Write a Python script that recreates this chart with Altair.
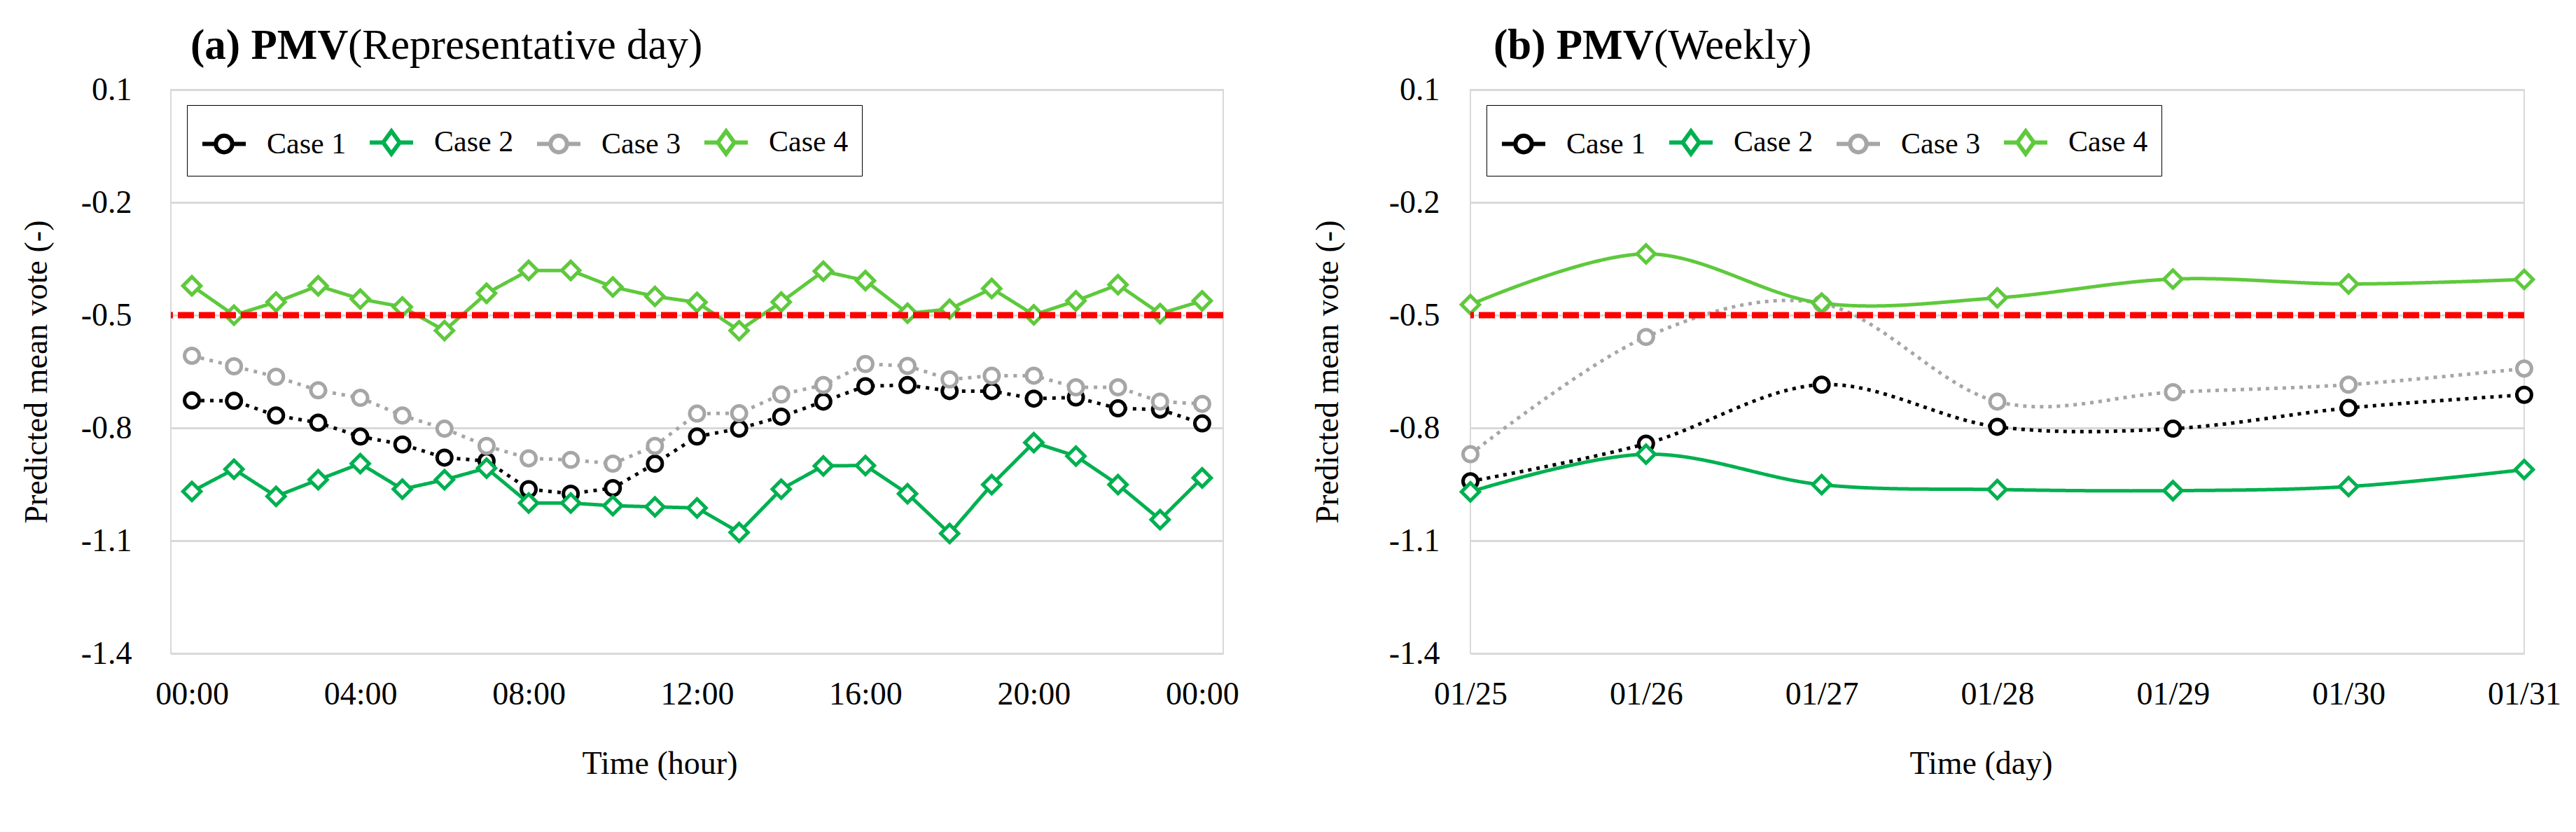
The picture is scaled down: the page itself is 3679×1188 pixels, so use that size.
import json
import altair as alt
import pandas as pd

# ---------------- data ----------------
cases = ["Case 1", "Case 2", "Case 3", "Case 4"]
case_colors = ["#000000", "#00B050", "#A6A6A6", "#5EC93C"]

hour_labels = ["00:00", "01:00", "02:00", "03:00", "04:00", "05:00", "06:00", "07:00",
               "08:00", "09:00", "10:00", "11:00", "12:00", "13:00", "14:00", "15:00",
               "16:00", "17:00", "18:00", "19:00", "20:00", "21:00", "22:00", "23:00", "00:00"]
hour_index = [0, 1, 2, 3, 4, 5, 6, 7, 8, 9, 10, 11, 12, 13, 14, 15, 16, 17, 18, 19, 20, 21, 22, 23, 24]
hour_ticks = [0, 4, 8, 12, 16, 20, 24]

day_case1 = [-0.727, -0.728, -0.767, -0.786, -0.823, -0.844, -0.879, -0.888, -0.963, -0.975,
             -0.960, -0.895, -0.823, -0.802, -0.770, -0.730, -0.689, -0.686, -0.702, -0.702,
             -0.722, -0.719, -0.748, -0.751, -0.788]
day_case2 = [-0.969, -0.910, -0.982, -0.938, -0.895, -0.963, -0.938, -0.907, -1.000, -1.000,
             -1.007, -1.010, -1.013, -1.078, -0.963, -0.901, -0.900, -0.975, -1.081, -0.951,
             -0.839, -0.875, -0.951, -1.044, -0.933]
day_case3 = [-0.608, -0.636, -0.664, -0.700, -0.720, -0.767, -0.802, -0.848, -0.881, -0.885,
             -0.895, -0.848, -0.762, -0.761, -0.711, -0.686, -0.630, -0.635, -0.671, -0.661,
             -0.661, -0.692, -0.692, -0.730, -0.736]
day_case4 = [-0.422, -0.500, -0.465, -0.422, -0.457, -0.478, -0.541, -0.442, -0.381, -0.381,
             -0.425, -0.450, -0.466, -0.541, -0.465, -0.383, -0.408, -0.495, -0.484, -0.429,
             -0.499, -0.462, -0.419, -0.496, -0.462]

date_labels = ["01/25", "01/26", "01/27", "01/28", "01/29", "01/30", "01/31"]
date_index = [0, 1, 2, 3, 4, 5, 6]
wk_case1 = [-0.942, -0.842, -0.685, -0.797, -0.802, -0.747, -0.712]
wk_case2 = [-0.970, -0.870, -0.951, -0.964, -0.967, -0.956, -0.911]
wk_case3 = [-0.870, -0.558, -0.469, -0.730, -0.705, -0.685, -0.642]
wk_case4 = [-0.472, -0.337, -0.468, -0.454, -0.404, -0.417, -0.405]

threshold = [-0.5]
y_ticks = [0.1, -0.2, -0.5, -0.8, -1.1, -1.4]

FONT = "Liberation Serif"


def long_df(xs, series):
    rows = []
    for name, vals in zip(cases, series):
        for x, v in zip(xs, vals):
            rows.append({"x": x, "Case": name, "PMV": v})
    return pd.DataFrame(rows)


df_day = long_df(hour_index, [day_case1, day_case2, day_case3, day_case4])
df_week = long_df(date_index, [wk_case1, wk_case2, wk_case3, wk_case4])

circle_leg = "M-1,0H-0.38M0.38,0H1M0.38,0A0.38,0.38,0,1,1,-0.38,0A0.38,0.38,0,1,1,0.38,0"
diamond_leg = "M-1,0H-0.38M0.38,0H1M0,-0.52L0.38,0L0,0.52L-0.38,0Z"


def panel(df, xdomain, xvalues, xlabels, xtitle, xtitle_x, t_bold, t_rest, t_x, rest_x,
          lab_pad, title_pad, width, interp, dash):
    x = alt.X("x:Q",
              scale=alt.Scale(domain=xdomain, nice=False, zero=False),
              axis=alt.Axis(values=xvalues,
                            labelExpr=json.dumps(xlabels) + "[round(datum.value)]",
                            title=xtitle, grid=False, ticks=False, domain=False,
                            labelPadding=36, titlePadding=54, titleX=xtitle_x,
                            labelFlush=False, labelOverlap=False,
                            labelFont=FONT, labelFontSize=46, labelColor="#000000",
                            titleFont=FONT, titleFontSize=46, titleFontWeight="normal",
                            titleColor="#000000"))
    y = alt.Y("PMV:Q",
              scale=alt.Scale(domain=[-1.4, 0.1], nice=False, zero=False),
              axis=alt.Axis(values=y_ticks,
                            labelExpr="replace(format(datum.value, '.1f'), '\u2212', '-')",
                            title="Predicted mean vote (-)", grid=True,
                            gridColor="#D9D9D9", gridWidth=3, ticks=False, domain=False,
                            labelPadding=lab_pad, titlePadding=title_pad,
                            labelFont=FONT, labelFontSize=46, labelColor="#000000",
                            titleFont=FONT, titleFontSize=46, titleFontWeight="normal",
                            titleColor="#000000"))
    # data-driven domain (sorted Case 1..4) so these hidden legends never merge with the real one
    stroke = alt.Stroke("Case:N", scale=alt.Scale(range=case_colors), legend=None)

    base = alt.Chart(df)
    lines = base.mark_line(strokeWidth=5, interpolate=interp).encode(
        x=x, y=y, stroke=stroke,
        strokeDash=alt.StrokeDash("Case:N", scale=alt.Scale(range=dash), legend=None),
    )
    circles = base.transform_filter(
        alt.FieldOneOfPredicate(field="Case", oneOf=["Case 1", "Case 3"])
    ).mark_point(shape="circle", filled=False, fill="white", size=440, strokeWidth=5, opacity=1).encode(
        x=x, y=y, stroke=stroke)
    diamonds = base.transform_filter(
        alt.FieldOneOfPredicate(field="Case", oneOf=["Case 2", "Case 4"])
    ).mark_point(shape="diamond", filled=False, fill="white", size=650, strokeWidth=5, opacity=1).encode(
        x=x, y=y, stroke=stroke)

    leg = dict(orient="none", legendX=23, legendY=22, direction="horizontal", columns=4,
               title=None, labelFont=FONT, labelFontSize=42, labelColor="#000000",
               labelOffset=27, columnPadding=21, padding=19, symbolSize=3844,
               symbolStrokeWidth=6, symbolOpacity=1, strokeColor="#000000", fillColor="white")
    # invisible layer that only carries the legend (line + marker symbols)
    legend_layer = base.mark_point(filled=False, opacity=0, strokeWidth=6).encode(
        x=x, y=y,
        color=alt.Color("Case:N", scale=alt.Scale(domain=cases, range=case_colors), legend=alt.Legend(**leg)),
        shape=alt.Shape("Case:N", scale=alt.Scale(domain=cases,
                                                   range=[circle_leg, diamond_leg, circle_leg, diamond_leg]),
                        legend=alt.Legend(**leg)),
    )

    rule = alt.Chart(pd.DataFrame({"PMV": threshold})).mark_rule(
        color="#FF0000", strokeWidth=9, strokeDash=[23, 7]).encode(y=y)

    tb = alt.Chart(pd.DataFrame({"t": [t_bold]})).mark_text(
        align="left", baseline="alphabetic", font=FONT, fontSize=61, fontWeight="bold", color="#000000"
    ).encode(text="t:N", x=alt.value(t_x), y=alt.value(-44))
    tr = alt.Chart(pd.DataFrame({"t": [t_rest]})).mark_text(
        align="left", baseline="alphabetic", font=FONT, fontSize=61, fontWeight="normal", color="#000000"
    ).encode(text="t:N", x=alt.value(rest_x), y=alt.value(-44))

    return alt.layer(lines, circles, diamonds, rule, legend_layer, tb, tr).properties(
        width=width, height=805)


left = panel(df_day, [-0.5, 24.5], hour_ticks, hour_labels, "Time (hour)", 698,
             "(a) PMV", "(Representative day)", 28, 28 + 225, 56, 39, 1503, "linear",
             [[5, 8], [1, 0], [5, 8], [1, 0]])
right = panel(df_week, [0, 6], date_index, date_labels, "Time (day)", 729,
              "(b) PMV", "(Weekly)", 33, 33 + 229, 44, 63, 1505, "cardinal",
              [[5, 7], [1, 0], [5, 7], [1, 0]])

chart = alt.hconcat(left, right, spacing=101).resolve_scale(
    color="independent", shape="independent", stroke="independent", strokeDash="independent",
    x="independent", y="independent"
).resolve_legend(color="independent", shape="independent").properties(
    padding={"left": 20, "top": 26, "right": 0, "bottom": 0}, background="white"
).configure_view(stroke="#D9D9D9", strokeWidth=2)

chart.save("out.html", embed_options={"renderer": "svg", "actions": False})
